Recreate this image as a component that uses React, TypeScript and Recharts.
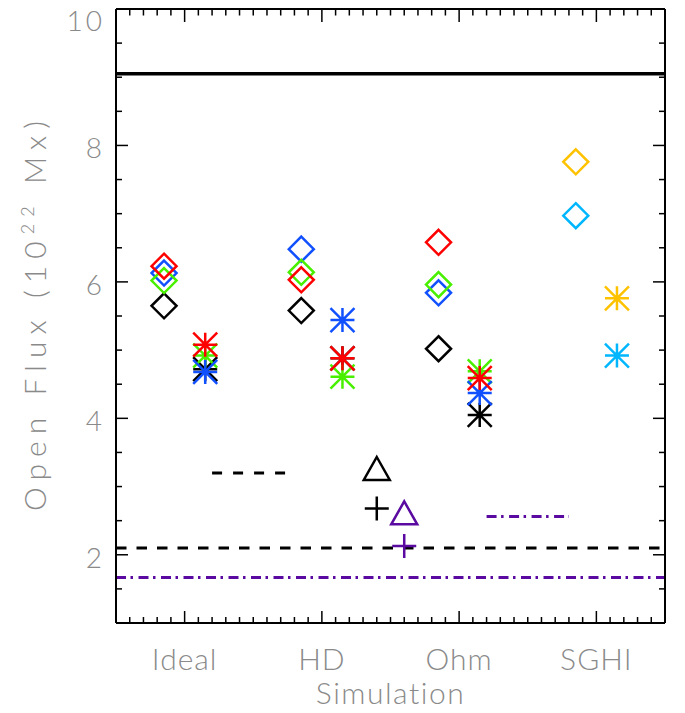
import React from 'react';
import { ScatterChart, Scatter, XAxis, YAxis, ReferenceLine, Label } from 'recharts';

const categories = ['Ideal', 'HD', 'Ohm', 'SGHI'];
const yMajor = [2, 4, 6, 8, 10];

// diamonds, left of each tick: Ideal, HD, Ohm
const diamondBlack = [5.65, 5.58, 5.02];
const diamondBlue = [6.13, 6.48, 5.84];
const diamondGreen = [6.02, 6.14, 5.96];
const diamondRed = [6.23, 6.03, 6.58];
// asterisks, right of each tick: Ideal, HD, Ohm
const starBlack = [4.72, 4.88, 4.05];
const starGreen = [4.92, 4.61, 4.69];
const starBlue = [4.68, 5.44, 4.37];
const starRed = [5.08, 4.88, 4.59];
// SGHI only
const sghiOrange = { diamond: 7.76, star: 5.76 };
const sghiCyan = { diamond: 6.97, star: 4.92 };

const blackTriangle = [{ x: 2.4, y: 3.25 }];
const blackCross = [{ x: 2.4, y: 2.68 }];
const purpleTriangle = [{ x: 2.6, y: 2.6 }];
const purpleCross = [{ x: 2.6, y: 2.13 }];

const solidLevel = 9.05;
const dashedLevel = 2.1;
const dashDotLevel = 1.667;
const shortDashed = [{ x: 1.2, y: 3.2 }, { x: 1.75, y: 3.2 }];
const shortDashDot = [{ x: 3.2, y: 2.56 }, { x: 3.8, y: 2.56 }];

const OFFSET = 0.15;
const left = (vals: number[], start = 1) => vals.map((v, i) => ({ x: start + i - OFFSET, y: v }));
const right = (vals: number[], start = 1) => vals.map((v, i) => ({ x: start + i + OFFSET, y: v }));

const X_DOMAIN = [0.5, 4.5];
const Y_DOMAIN = [1, 10];
const xTicks: number[] = [];
for (let i = 6; i <= 44; i++) xTicks.push(i / 10);
const yTicks: number[] = [];
for (let i = 3; i <= 19; i++) yTicks.push(i / 2);

const RED = '#ff0000';
const GREEN = '#48f000';
const BLUE = '#1050ff';
const PURPLE = '#5a0aa0';
const ORANGE = '#ffc200';
const CYAN = '#00b7ff';
const GRAY = '#8a8a8a';
const FONT = 'Lato, "DejaVu Sans", sans-serif';

const W = 685;
const H = 713;
const MARGIN_TOP = 8;
const MARGIN_RIGHT = 19;
const LEFT_AXIS_W = 116;
const RIGHT_AXIS_W = 1;
const TOP_AXIS_H = 1;
const BOTTOM_AXIS_H = 90;
const PLOT_W = W - LEFT_AXIS_W - MARGIN_RIGHT - RIGHT_AXIS_W;

const isMajorX = (v: number) => Math.abs(v - Math.round(v)) < 1e-6;

const Diamond = ({ cx, cy, color }: any) => (
  <path d={`M${cx},${cy - 12.5}L${cx + 12.5},${cy}L${cx},${cy + 12.5}L${cx - 12.5},${cy}Z`} fill="none" stroke={color} strokeWidth={2.5} />
);
const Star = ({ cx, cy, color }: any) => (
  <path
    d={`M${cx},${cy - 12}V${cy + 12}M${cx - 12},${cy}H${cx + 12}M${cx - 12},${cy - 12}L${cx + 12},${cy + 12}M${cx - 12},${cy + 12}L${cx + 12},${cy - 12}`}
    fill="none" stroke={color} strokeWidth={2.5} />
);
const Triangle = ({ cx, cy, color }: any) => (
  <path d={`M${cx},${cy - 12.5}L${cx + 13},${cy + 10.5}L${cx - 13},${cy + 10.5}Z`} fill="none" stroke={color} strokeWidth={2.5} strokeLinejoin="miter" />
);
const Cross = ({ cx, cy, color }: any) => (
  <path d={`M${cx},${cy - 12}V${cy + 12}M${cx - 12},${cy}H${cx + 12}`} fill="none" stroke={color} strokeWidth={2.5} />
);

// top edge ticks, hung off the left axis tick at the top of the y range
const TopTicks = ({ x0, y0 }: any) => (
  <g>
    {xTicks.map((t) => {
      const px = x0 + ((t - X_DOMAIN[0]) / (X_DOMAIN[1] - X_DOMAIN[0])) * PLOT_W;
      return <line key={t} x1={px} y1={y0} x2={px} y2={y0 + (isMajorX(t) ? 13 : 6.5)} />;
    })}
  </g>
);

const FrameTick = (props: any) => {
  const { x, y, payload, side } = props;
  const v = payload.value;
  const major = side === 'bottom' ? isMajorX(v) : Math.abs(v / 2 - Math.round(v / 2)) < 1e-6;
  const len = major ? 12 : 6;
  let line;
  if (side === 'left') line = <line x1={x} y1={y} x2={x + len} y2={y} />;
  else if (side === 'right') line = <line x1={x} y1={y} x2={x - len} y2={y} />;
  else line = <line x1={x} y1={y} x2={x} y2={y - len} />;
  let text = null;
  if (major && side === 'left' && yMajor.includes(Math.round(v))) {
    text = (
      <text x={x - 11} y={y + (v === 10 ? 11 : 2)} textAnchor="end" dominantBaseline="central"
        fill={GRAY} stroke="none" fontFamily={FONT} fontWeight={300} fontSize={28} letterSpacing={3}>
        {Math.round(v)}
      </text>
    );
  }
  if (major && side === 'bottom') {
    text = (
      <text x={x} y={y + 47} textAnchor="middle" fill={GRAY} stroke="none" fontFamily={FONT} fontWeight={300} fontSize={30} letterSpacing={1}>
        {categories[Math.round(v) - 1]}
      </text>
    );
  }
  return (
    <g stroke="#000" strokeWidth={1.5}>
      {line}
      {side === 'left' && v === Y_DOMAIN[1] ? <TopTicks x0={x} y0={y} /> : null}
      {text}
    </g>
  );
};

const YTitle = (props: any) => {
  const vb = props.viewBox;
  const cx = vb.x + 46;
  const cy = vb.y + vb.height / 2;
  return (
    <text transform={`translate(${cx},${cy}) rotate(-90)`} textAnchor="middle" fill={GRAY}
      fontFamily={FONT} fontWeight={300} fontSize={30} textLength={390} lengthAdjust="spacing">
      Open Flux (10<tspan dy={-12} fontSize={18}>22</tspan><tspan dy={12}> Mx)</tspan>
    </text>
  );
};

const XTitle = (props: any) => {
  const vb = props.viewBox;
  return (
    <text x={vb.x + vb.width / 2} y={vb.y + 81} textAnchor="middle" fill={GRAY}
      fontFamily={FONT} fontWeight={300} fontSize={30} letterSpacing={1.5}>
      Simulation
    </text>
  );
};

const axisLine = { stroke: '#000', strokeWidth: 2 };

export default function App() {
  return (
    <div style={{ position: 'absolute', left: 0, top: 0, background: '#fff' }}>
      <ScatterChart width={W} height={H} margin={{ top: MARGIN_TOP, right: MARGIN_RIGHT, bottom: 0, left: 0 }}>
        <XAxis xAxisId="main" dataKey="x" type="number" domain={X_DOMAIN} allowDataOverflow ticks={xTicks}
          interval={0} height={BOTTOM_AXIS_H} tickSize={0} tickMargin={0} tickLine={false} axisLine={axisLine}
          tick={<FrameTick side="bottom" />}>
          <Label content={<XTitle />} />
        </XAxis>
        <XAxis xAxisId="top" orientation="top" type="number" domain={X_DOMAIN} ticks={[]}
          height={TOP_AXIS_H} tick={false} tickLine={false} axisLine={axisLine} />
        <YAxis yAxisId="main" dataKey="y" type="number" domain={Y_DOMAIN} allowDataOverflow ticks={yTicks.concat([10])}
          interval={0} width={LEFT_AXIS_W} tickSize={0} tickMargin={0} tickLine={false} axisLine={axisLine}
          tick={<FrameTick side="left" />}>
          <Label content={<YTitle />} />
        </YAxis>
        <YAxis yAxisId="right" orientation="right" type="number" domain={Y_DOMAIN} allowDataOverflow ticks={yTicks}
          interval={0} width={RIGHT_AXIS_W} tickSize={0} tickMargin={0} tickLine={false} axisLine={axisLine}
          tick={<FrameTick side="right" />} />

        <ReferenceLine xAxisId="main" yAxisId="main" y={solidLevel} stroke="#000" strokeWidth={3.5} />
        <ReferenceLine xAxisId="main" yAxisId="main" y={dashedLevel} stroke="#000" strokeWidth={3} strokeDasharray="10.5 10" />
        <ReferenceLine xAxisId="main" yAxisId="main" y={dashDotLevel} stroke={PURPLE} strokeWidth={3} strokeDasharray="10 4.5 2.5 5.5" />
        <ReferenceLine xAxisId="main" yAxisId="main" segment={shortDashed} stroke="#000" strokeWidth={3} strokeDasharray="10 11" />
        <ReferenceLine xAxisId="main" yAxisId="main" segment={shortDashDot} stroke={PURPLE} strokeWidth={3} strokeDasharray="10 4.5 2.5 5.5" />

        <Scatter xAxisId="main" yAxisId="main" data={left(diamondBlack)} isAnimationActive={false} shape={(p: any) => <Diamond {...p} color="#000" />} />
        <Scatter xAxisId="main" yAxisId="main" data={left(diamondBlue)} isAnimationActive={false} shape={(p: any) => <Diamond {...p} color={BLUE} />} />
        <Scatter xAxisId="main" yAxisId="main" data={left(diamondGreen)} isAnimationActive={false} shape={(p: any) => <Diamond {...p} color={GREEN} />} />
        <Scatter xAxisId="main" yAxisId="main" data={left(diamondRed)} isAnimationActive={false} shape={(p: any) => <Diamond {...p} color={RED} />} />
        <Scatter xAxisId="main" yAxisId="main" data={right(starBlack)} isAnimationActive={false} shape={(p: any) => <Star {...p} color="#000" />} />
        <Scatter xAxisId="main" yAxisId="main" data={right(starGreen)} isAnimationActive={false} shape={(p: any) => <Star {...p} color={GREEN} />} />
        <Scatter xAxisId="main" yAxisId="main" data={right(starBlue)} isAnimationActive={false} shape={(p: any) => <Star {...p} color={BLUE} />} />
        <Scatter xAxisId="main" yAxisId="main" data={right(starRed)} isAnimationActive={false} shape={(p: any) => <Star {...p} color={RED} />} />
        <Scatter xAxisId="main" yAxisId="main" data={left([sghiOrange.diamond], 4)} isAnimationActive={false} shape={(p: any) => <Diamond {...p} color={ORANGE} />} />
        <Scatter xAxisId="main" yAxisId="main" data={left([sghiCyan.diamond], 4)} isAnimationActive={false} shape={(p: any) => <Diamond {...p} color={CYAN} />} />
        <Scatter xAxisId="main" yAxisId="main" data={right([sghiOrange.star], 4)} isAnimationActive={false} shape={(p: any) => <Star {...p} color={ORANGE} />} />
        <Scatter xAxisId="main" yAxisId="main" data={right([sghiCyan.star], 4)} isAnimationActive={false} shape={(p: any) => <Star {...p} color={CYAN} />} />
        <Scatter xAxisId="main" yAxisId="main" data={blackTriangle} isAnimationActive={false} shape={(p: any) => <Triangle {...p} color="#000" />} />
        <Scatter xAxisId="main" yAxisId="main" data={blackCross} isAnimationActive={false} shape={(p: any) => <Cross {...p} color="#000" />} />
        <Scatter xAxisId="main" yAxisId="main" data={purpleTriangle} isAnimationActive={false} shape={(p: any) => <Triangle {...p} color={PURPLE} />} />
        <Scatter xAxisId="main" yAxisId="main" data={purpleCross} isAnimationActive={false} shape={(p: any) => <Cross {...p} color={PURPLE} />} />
      </ScatterChart>
    </div>
  );
}
